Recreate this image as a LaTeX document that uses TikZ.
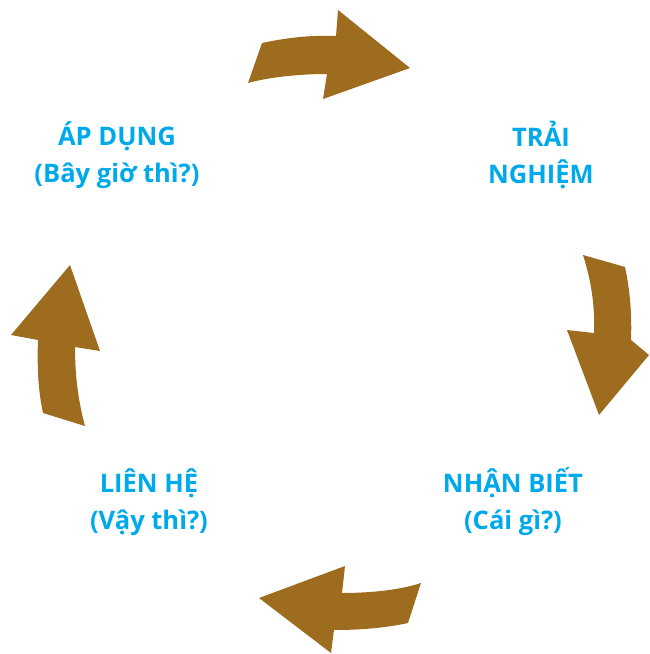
\documentclass[tikz,border=0pt]{standalone}
\usepackage{fontspec}
\setmainfont{Open Sans}
\usepackage{xcolor}
\usepackage{tikz}
\definecolor{arrowbrown}{HTML}{9E6C1F}
\definecolor{stageblue}{HTML}{00AAEA}

\begin{document}
\begin{tikzpicture}[x=0.03cm,y=-0.03cm,inner sep=1pt,
  stage/.style={text=stageblue,font=\fontsize{21.8}{31.5}\selectfont\bfseries,align=center},
  cyclearrow/.style={fill=arrowbrown,draw=none}]
\useasboundingbox (0,0) rectangle (649,654);

\node[stage] (apdung) at (117,155) {ÁP DỤNG\\(Bây giờ thì?)};
\node[stage] (trainghiem) at (541,155) {TRẢI\\NGHIỆM};
\node[stage] (nhanbiet) at (513,502) {NHẬN BIẾT\\(Cái gì?)};
\node[stage] (lienhe) at (149,502) {LIÊN HỆ\\(Vậy thì?)};

\path[cyclearrow] (248,83) -- (262,43) .. controls (290,37) and (315,35) .. (336,36) -- (338,10) -- (410,68) -- (323,99) -- (327,74) .. controls (300,74) and (270,77) .. (248,83) -- cycle;
\path[cyclearrow] (583,255) -- (625,267) .. controls (630,290) and (632,315) .. (631,340) -- (649,355) -- (599,415) -- (567,330) -- (594,333) .. controls (595,305) and (591,280) .. (583,255) -- cycle;
\path[cyclearrow] (421,583) -- (408,623) .. controls (385,628) and (360,630) .. (334,630) -- (331,653) -- (259,598) -- (345,566) -- (342,593) .. controls (370,593) and (400,590) .. (421,583) -- cycle;
\path[cyclearrow] (85,426) -- (43,413) .. controls (38,390) and (37,365) .. (38,340) -- (11,335) -- (70,265) -- (100,351) -- (75,347) .. controls (75,375) and (78,400) .. (85,426) -- cycle;

\end{tikzpicture}
\end{document}
